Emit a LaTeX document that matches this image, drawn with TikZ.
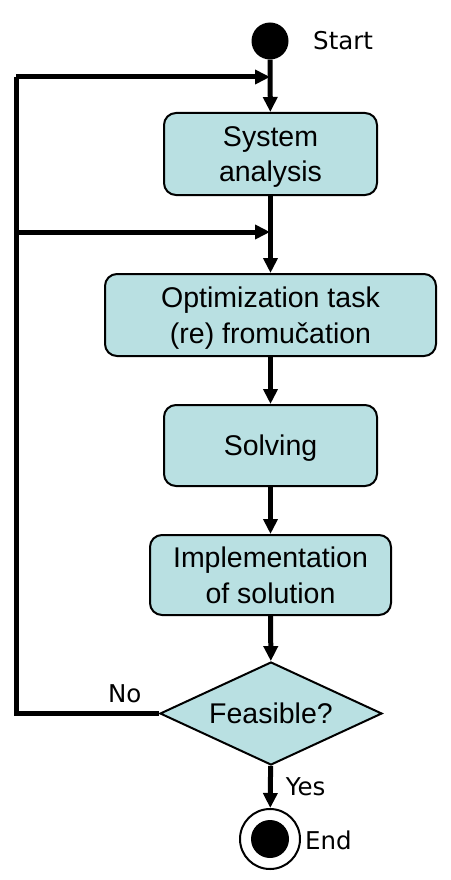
\documentclass[tikz,border=0pt]{standalone}
\usepackage{fontspec}
\setmainfont{Liberation Sans}
\newfontfamily\labelfont{DejaVu Sans}
\usetikzlibrary{arrows.meta,shapes.geometric}
\definecolor{taskfill}{RGB}{185,224,226}
\tikzset{
  task/.style={draw,line width=2pt,rounded corners=12pt,fill=taskfill,align=center,
    font=\fontsize{28.5}{35.5}\selectfont,inner sep=0pt,text depth=0pt},
  decision/.style={draw,line width=2pt,diamond,shape aspect=2.155,fill=taskfill,inner sep=0pt,
    font=\fontsize{28.5}{34}\selectfont,text depth=0pt},
  flow/.style={line width=5pt,-{Triangle[length=15pt,width=14pt]}},
  plain/.style={line width=5pt},
  note/.style={font=\labelfont\fontsize{24.5}{28}\selectfont,inner sep=0pt}
}
\begin{document}
\begin{tikzpicture}[x=1pt,y=-1pt]
  \useasboundingbox (0,0) rectangle (450,880);
  \node[circle,fill=black,minimum size=37pt,inner sep=0pt] (start) at (270,41) {};
  \node[note,anchor=west] (startlbl) at (313,41) {Start};
  \node[task,minimum width=213pt,minimum height=82pt] (analysis) at (270.5,154) {System\\analysis};
  \node[task,minimum width=331pt,minimum height=82pt] (formul) at (270.5,315) {Optimization task\\(re) fromučation};
  \node[task,minimum width=213pt,minimum height=81pt] (solve) at (270.5,445.5) {Solving};
  \node[task,minimum width=241pt,minimum height=80pt] (impl) at (270.5,575) {Implementation\\of solution};
  \node[decision,minimum width=222pt,minimum height=103pt] (feas) at (271,713.5) {Feasible?};
  \node[circle,draw,line width=2pt,fill=white,minimum size=60pt,inner sep=0pt] (finish) at (270,839) {};
  \node[circle,fill=black,minimum size=38pt,inner sep=0pt] (finishdot) at (finish) {};
  \node[note,anchor=west] (endlbl) at (305,840) {End};
  \coordinate (join1) at (270,77);
  \coordinate (join2) at (270,232);
  \coordinate (back1) at (16,77);
  \coordinate (back2) at (16,232);
  \draw[flow] (start) -- (analysis);
  \draw[flow] (analysis) -- (formul);
  \draw[flow] (formul) -- (solve);
  \draw[flow] (solve) -- (impl);
  \draw[flow] (impl) -- (feas);
  \draw[flow] (feas) -- node[note,right,xshift=13pt] {Yes} (finish);
  \draw[plain] (feas.west) -- node[note,above,pos=0.24,yshift=8pt] {No} (feas.west -| back1) -- (back1);
  \draw[flow] (back1) -- (join1);
  \draw[flow] (back2) -- (join2);
\end{tikzpicture}
\end{document}
